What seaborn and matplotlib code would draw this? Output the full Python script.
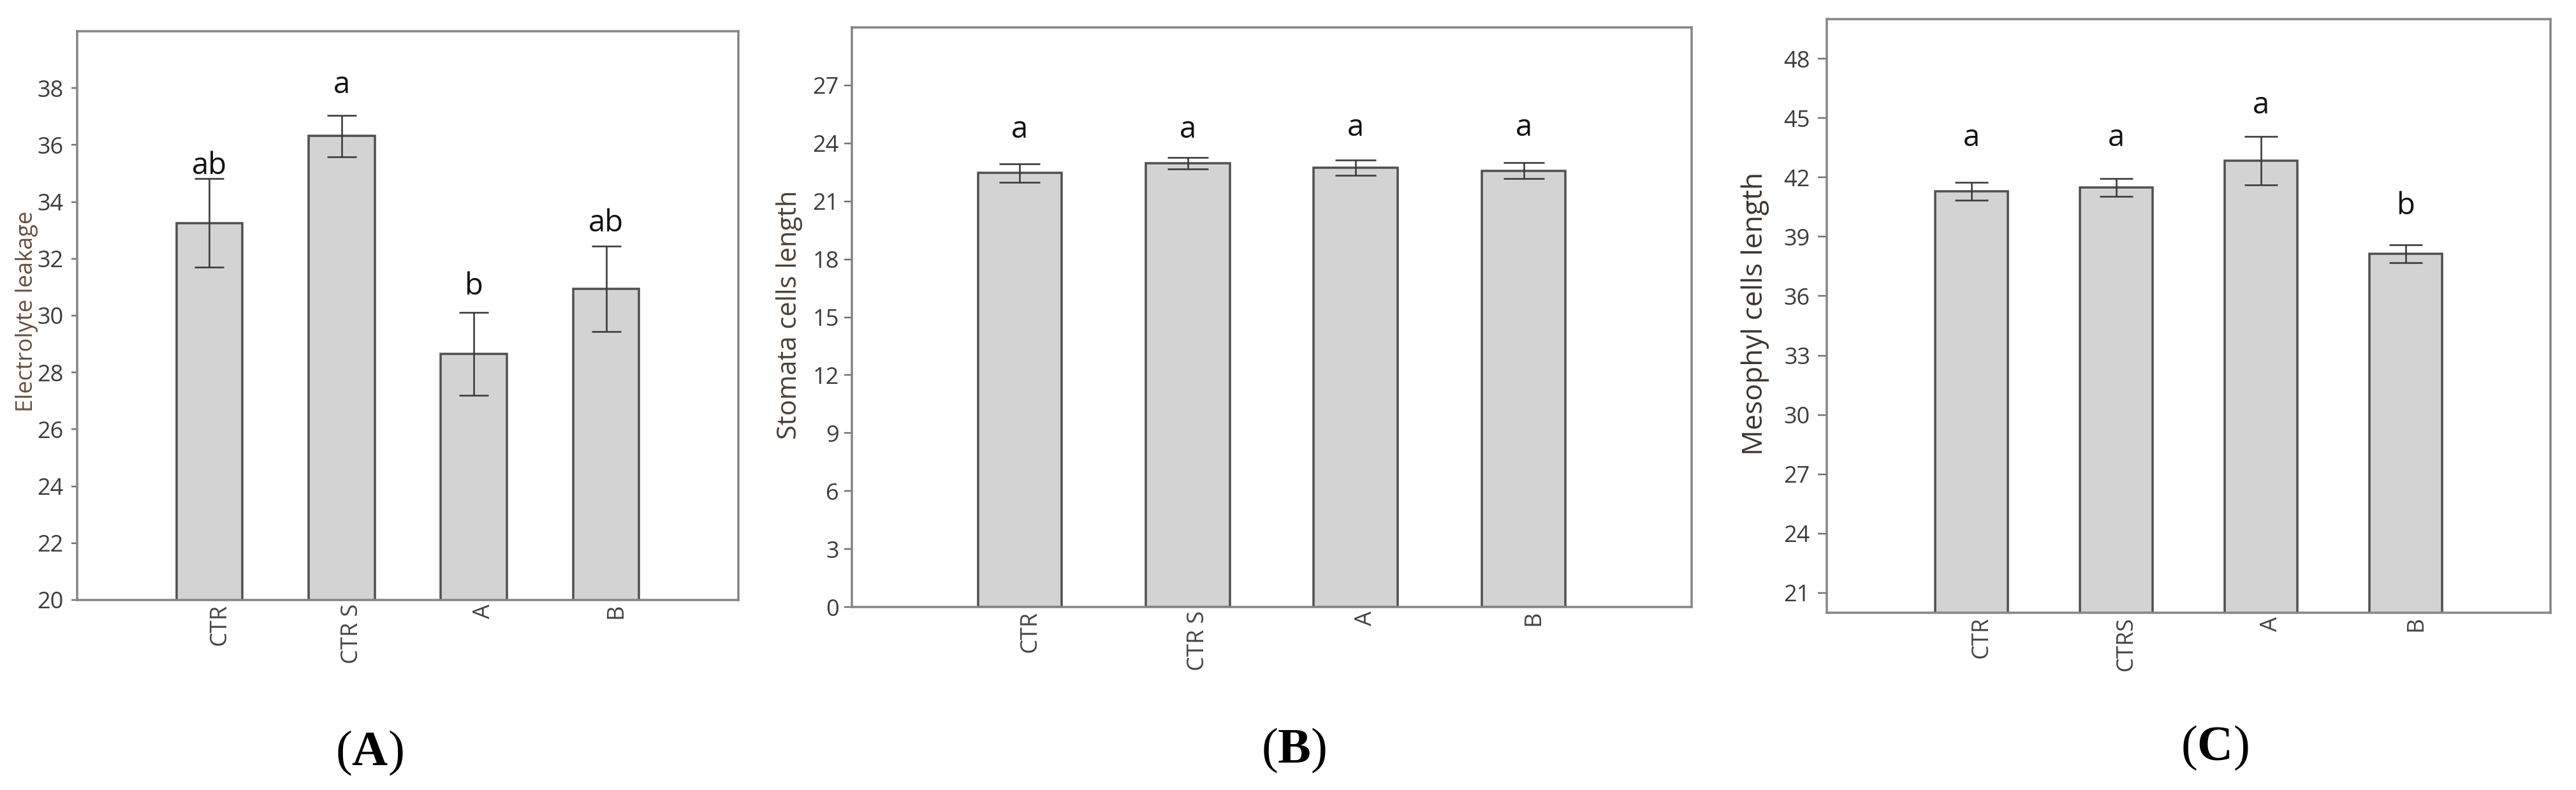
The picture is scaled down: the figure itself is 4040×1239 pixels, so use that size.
import matplotlib
matplotlib.use("Agg")
import matplotlib.pyplot as plt
import matplotlib.transforms as mtransforms
import numpy as np
import pandas as pd
import seaborn as sns

# ---------------- data ----------------
cats_A = ["CTR", "CTR S", "A", "B"]
mean_A = [33.26, 36.32, 28.65, 30.94]
se_A = [1.55, 0.73, 1.46, 1.50]
letters_A = ["ab", "a", "b", "ab"]
letter_y_A = [34.98, 37.83, 30.74, 32.96]

cats_B = ["CTR", "CTR S", "A", "B"]
mean_B = [22.46, 22.96, 22.75, 22.59]
se_B = [0.47, 0.30, 0.40, 0.40]
letters_B = ["a", "a", "a", "a"]
letter_y_B = [24.3, 24.3, 24.4, 24.4]

cats_C = ["CTR", "CTRS", "A", "B"]
mean_C = [41.30, 41.48, 42.85, 38.14]
se_C = [0.46, 0.45, 1.23, 0.45]
letters_C = ["a", "a", "a", "b"]
letter_y_C = [43.59, 43.59, 45.23, 40.14]

ylabels = ["Electrolyte leakage", "Stomata cells length", "Mesophyl cells length"]
yticks_A = list(range(20, 39, 2))
yticks_B = list(range(0, 28, 3))
yticks_C = list(range(21, 49, 3))
panel_tags = ["A", "B", "C"]

# ---------------- style ----------------
sns.set_theme(style="white")
plt.rcParams["font.family"] = ["Open Sans", "DejaVu Sans"]
plt.rcParams["mathtext.fontset"] = "custom"
plt.rcParams["mathtext.rm"] = "Liberation Serif"
plt.rcParams["mathtext.bf"] = "Liberation Serif:bold"

W, H = 4040, 1239
DPI = 100
fig = plt.figure(figsize=(W / DPI, H / DPI), dpi=DPI)
fig.patch.set_facecolor("white")

def px_axes(x0, y0, x1, y1):
    return fig.add_axes([x0 / W, 1 - y1 / H, (x1 - x0) / W, (y1 - y0) / H])

PT = 0.72  # points per pixel at 100 dpi

panels = [
    dict(box=(121, 49, 1158, 941), cats=cats_A, mean=mean_A, se=se_A, letters=letters_A,
         ly=letter_y_A, ylim=(20, 40), yticks=yticks_A, ylabel=ylabels[0],
         ylab_xy=(42, 488), ylab_size=26, ylab_color="#6a4e3e", cap=23,
         tlen=9, tpad=12, tag_xy=(579, 1181)),
    dict(box=(1336, 43, 2653, 952), cats=cats_B, mean=mean_B, se=se_B, letters=letters_B,
         ly=letter_y_B, ylim=(0, 30), yticks=yticks_B, ylabel=ylabels[1],
         ylab_xy=(1238, 494), ylab_size=30, ylab_color="#4d3f37", cap=32,
         tlen=12, tpad=8, tag_xy=(2029, 1177)),
    dict(box=(2865, 30, 4000, 961), cats=cats_C, mean=mean_C, se=se_C, letters=letters_C,
         ly=letter_y_C, ylim=(20, 50), yticks=yticks_C, ylabel=ylabels[2],
         ylab_xy=(2753, 492), ylab_size=32, ylab_color="#3f3530", cap=26,
         tlen=14, tpad=12, tag_xy=(3473, 1173)),
]

for p, tag in zip(panels, panel_tags):
    x0, y0, x1, y1 = p["box"]
    ax = px_axes(x0, y0, x1, y1)
    df = pd.DataFrame({"group": p["cats"], "value": p["mean"]})
    sns.barplot(data=df, x="group", y="value", order=p["cats"], ax=ax,
                color="#d3d3d3", saturation=1, width=0.5, errorbar=None,
                edgecolor="#4f4f4f", linewidth=3.5 * PT)
    xs = np.arange(len(p["cats"]))
    ax.errorbar(xs, p["mean"], yerr=p["se"], fmt="none", ecolor="#3a3a3a",
                elinewidth=2.6 * PT, capsize=p["cap"] * PT, capthick=2.6 * PT, zorder=5)
    for xi, lab, yy in zip(xs, p["letters"], p["ly"]):
        ax.text(xi, yy, lab, ha="center", va="baseline", fontsize=34, color="#111111",
                family=["Open Sans", "DejaVu Sans"])
    ax.set_xlim(-1, 4)
    ax.set_ylim(*p["ylim"])
    ax.set_yticks(p["yticks"])
    ax.set_xlabel("")
    ax.set_ylabel(p["ylabel"], fontsize=p["ylab_size"], color=p["ylab_color"])
    lx, ly = p["ylab_xy"]
    ax.yaxis.label.set_va("center")
    ax.yaxis.label.set_ha("center")
    ax.yaxis.set_label_coords((lx - x0) / (x1 - x0), (y1 - ly) / (y1 - y0))
    for s in ax.spines.values():
        s.set_visible(True)
        s.set_color("#858585")
        s.set_linewidth(3.5 * PT)
    ax.tick_params(axis="y", which="major", left=True, length=p["tlen"] * PT,
                   width=2.5 * PT, color="#707070", pad=p["tpad"] * PT,
                   labelsize=26, labelcolor="#3c3c3c")
    ax.tick_params(axis="x", which="major", bottom=True, length=0, pad=6 * PT,
                   labelsize=26, labelcolor="#444444", labelrotation=90)
    off = mtransforms.ScaledTranslation(16 / DPI, 0, fig.dpi_scale_trans)
    for lab in ax.get_xticklabels():
        lab.set_transform(lab.get_transform() + off)
    ax.set_facecolor("white")
    tx, ty = p["tag_xy"]
    fig.text(tx / W, 1 - ty / H, "($\\mathbf{%s}$)" % tag, ha="center", va="center",
             fontsize=56, family=["Liberation Serif", "DejaVu Serif"], color="black")

fig.savefig("out.png", dpi=DPI, facecolor="white")
